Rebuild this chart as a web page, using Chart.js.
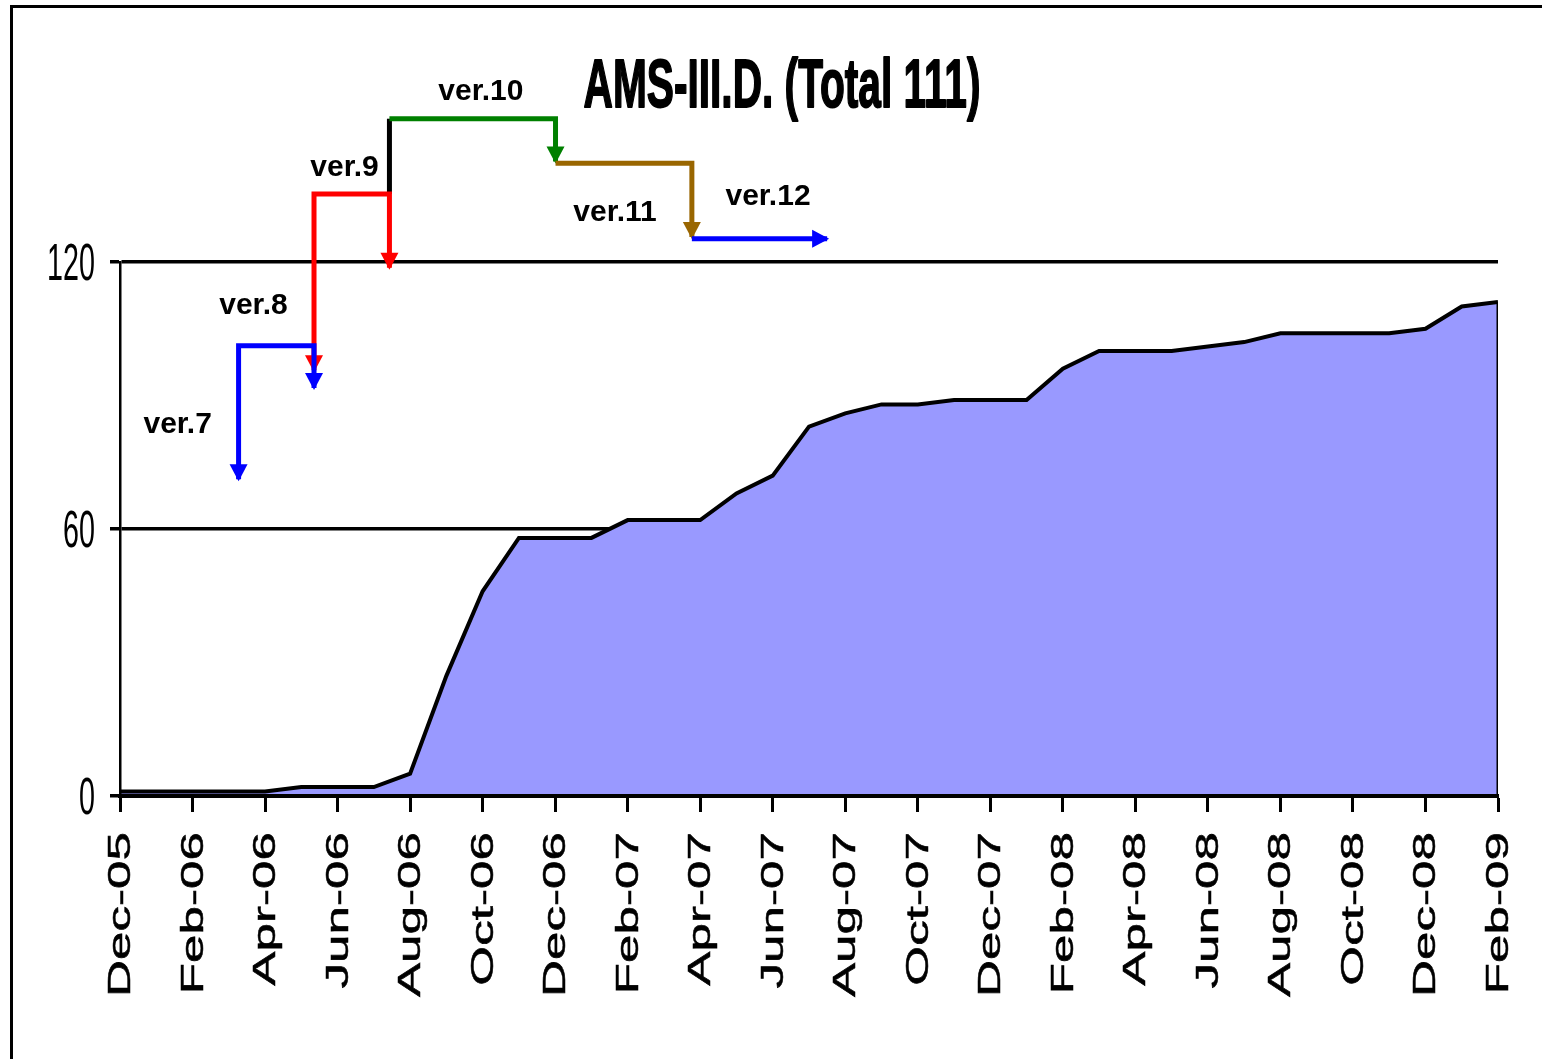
<!DOCTYPE html>
<html><head><meta charset="utf-8">
<script src="https://cdn.jsdelivr.net/npm/chart.js@4.4.1/dist/chart.umd.min.js"></script>
<style>
html,body{margin:0;padding:0;background:#fff;overflow:hidden;}
#wrap{position:relative;width:1542px;height:1059px;overflow:hidden;}
#c{position:absolute;left:0;top:0;}
#frame{position:absolute;left:10px;top:5px;width:1700px;height:1200px;border-left:3px solid #000;border-top:3px solid #000;pointer-events:none;}
</style></head>
<body><div id="wrap"><canvas id="c" width="1542" height="1059"></canvas><div id="frame"></div></div>
<script>
const TITLE = 'AMS-III.D. (Total 111)';
const months = ['Dec-05','Jan-06','Feb-06','Mar-06','Apr-06','May-06','Jun-06','Jul-06','Aug-06','Sep-06','Oct-06','Nov-06',
  'Dec-06','Jan-07','Feb-07','Mar-07','Apr-07','May-07','Jun-07','Jul-07','Aug-07','Sep-07','Oct-07','Nov-07',
  'Dec-07','Jan-08','Feb-08','Mar-08','Apr-08','May-08','Jun-08','Jul-08','Aug-08','Sep-08','Oct-08','Nov-08',
  'Dec-08','Jan-09','Feb-09'];
const projects = [1,1,1,1,1,2,2,2,5,27,46,58,
  58,58,62,62,62,68,72,83,86,88,88,89,
  89,89,96,100,100,100,101,102,104,104,104,104,
  105,110,111];
const Y_MAX = 120;
const Y_STEP = 60;
const X_STEP = 2;

// version-history arrows (x: months after Dec-05, y: chart units)
const ver78X = [3.27, 3.27, 5.35, 5.35];
const ver78Y = [71.2, 101.2, 101.2, 91.7];
const ver9X  = [5.35, 5.35, 7.43, 7.43];
const ver9Y  = [95.7, 135.3, 135.3, 118.7];
const ver10aX = [7.43, 7.43];
const ver10aY = [135.3, 152.2];
const ver10X = [7.43, 12.01, 12.01];
const ver10Y = [152.2, 152.2, 142.6];
const ver11X = [12.01, 15.77, 15.77];
const ver11Y = [142.2, 142.2, 125.6];
const ver12X = [15.77, 19.5];
const ver12Y = [125.2, 125.2];

const verLabels = ['ver.7','ver.8','ver.9','ver.10','ver.11','ver.12'];
const verLabelX = [1.59, 3.68, 6.19, 9.95, 13.65, 17.87];
const verLabelY = [81.6, 108.3, 139.3, 156.4, 129.2, 132.8];

const FONT = '"Liberation Sans", Arial, sans-serif';

function pts(xs, ys){ return xs.map((x,i)=>({x:x, y:ys[i]})); }
function annot(xs, ys, color, order, arrowStart, arrowEnd){
  return {data: pts(xs, ys), borderColor: color, backgroundColor: color, borderWidth: 5,
    pointRadius: 0, fill: false, tension: 0, clip: false, order: order,
    borderCapStyle: 'butt', borderJoinStyle: 'miter', arrowStart: arrowStart, arrowEnd: arrowEnd};
}

const arrowPlugin = {
  id: 'arrows',
  afterDatasetDraw(chart, args){
    const ds = chart.data.datasets[args.index];
    if (!ds.arrowStart && !ds.arrowEnd) return;
    const p = args.meta.data;
    const ctx = chart.ctx;
    const head = (tip, from) => {
      const dx = tip.x - from.x, dy = tip.y - from.y, L = Math.hypot(dx, dy);
      const ux = dx / L, uy = dy / L;
      const tx = tip.x + ux * 2, ty = tip.y + uy * 2;
      const bx = tx - ux * 17, by = ty - uy * 17;
      ctx.beginPath();
      ctx.moveTo(tx, ty);
      ctx.lineTo(bx - uy * 9, by + ux * 9);
      ctx.lineTo(bx + uy * 9, by - ux * 9);
      ctx.closePath();
      ctx.fill();
    };
    ctx.save();
    ctx.fillStyle = ds.borderColor;
    if (ds.arrowEnd) head(p[p.length - 1], p[p.length - 2]);
    if (ds.arrowStart) head(p[0], p[1]);
    ctx.restore();
  }
};

const textPlugin = {
  id: 'texts',
  afterDraw(chart){
    const ctx = chart.ctx, xs = chart.scales.x, ys = chart.scales.y;
    ctx.save();
    ctx.fillStyle = '#000';
    ctx.strokeStyle = '#000';
    // title (stretched narrow bold)
    ctx.save();
    ctx.translate(782, 107);
    ctx.scale(0.83, 1.38);
    ctx.font = 'bold 49px ' + FONT;
    ctx.textAlign = 'center'; ctx.textBaseline = 'alphabetic';
    ctx.lineWidth = 1.3; ctx.lineJoin = 'round';
    ctx.fillText(TITLE, 0, 0);
    ctx.strokeText(TITLE, 0, 0);
    ctx.restore();
    // y tick labels
    ys.ticks.forEach(t => {
      const py = ys.getPixelForValue(t.value);
      ctx.save();
      ctx.translate(95, py + 18);
      ctx.scale(0.82, 1.46);
      ctx.font = '35px ' + FONT;
      ctx.textAlign = 'right'; ctx.textBaseline = 'alphabetic';
      ctx.fillText(String(t.value), 0, 0);
      ctx.restore();
    });
    // x tick labels (rotated, stretched along text)
    xs.ticks.forEach(t => {
      const px = xs.getPixelForValue(t.value);
      ctx.save();
      ctx.translate(px + 10, 832);
      ctx.rotate(-Math.PI / 2);
      ctx.scale(1.6, 1);
      ctx.font = '32px ' + FONT;
      ctx.textAlign = 'right'; ctx.textBaseline = 'alphabetic';
      ctx.lineWidth = 0.5;
      ctx.fillText(months[t.value], 0, 0);
      ctx.strokeText(months[t.value], 0, 0);
      ctx.restore();
    });
    // version labels
    ctx.font = 'bold 30px ' + FONT;
    ctx.textAlign = 'center'; ctx.textBaseline = 'alphabetic';
    verLabels.forEach((s, i) => {
      ctx.fillText(s, xs.getPixelForValue(verLabelX[i]), ys.getPixelForValue(verLabelY[i]));
    });
    ctx.restore();
  }
};

const last = projects.length - 1;
new Chart(document.getElementById('c'), {
  type: 'line',
  data: {
    datasets: [
      {data: months.map((m, i) => ({x: i, y: projects[i]})), borderColor: '#000', backgroundColor: '#9999ff',
       borderWidth: 4, pointRadius: 0, fill: 'origin', tension: 0, order: 20, borderJoinStyle: 'miter'},
      {data: [{x: last, y: 0}, {x: last, y: projects[last]}], borderColor: '#000', borderWidth: 3,
       pointRadius: 0, fill: false, order: 19},
      annot(ver10aX, ver10aY, '#000000', 6, false, false),
      annot(ver9X, ver9Y, '#ff0000', 5, true, true),
      annot(ver10X, ver10Y, '#008000', 4, false, true),
      annot(ver11X, ver11Y, '#996600', 3, false, true),
      annot(ver12X, ver12Y, '#0000ff', 2, false, true),
      annot(ver78X, ver78Y, '#0000ff', 1, true, true)
    ]
  },
  options: {
    responsive: false,
    animation: false,
    events: [],
    layout: {padding: {left: 110, top: 262, right: 44, bottom: 247}},
    plugins: {legend: {display: false}, title: {display: false}, tooltip: {enabled: false}},
    scales: {
      x: {
        type: 'linear', min: 0, max: last,
        ticks: {display: false, stepSize: X_STEP},
        grid: {drawOnChartArea: false, drawTicks: true, tickLength: 16, tickWidth: 3, tickColor: '#000', color: '#000'},
        border: {display: true, color: '#000', width: 4, z: 1}
      },
      y: {
        min: 0, max: Y_MAX,
        ticks: {display: false, stepSize: Y_STEP},
        grid: {drawOnChartArea: true, drawTicks: true, tickLength: 10, tickWidth: 3.5, lineWidth: 3.5, tickColor: '#000', color: '#000'},
        border: {display: true, color: '#000', width: 2.5, z: 1}
      }
    }
  },
  plugins: [arrowPlugin, textPlugin]
});
</script>
</body></html>
